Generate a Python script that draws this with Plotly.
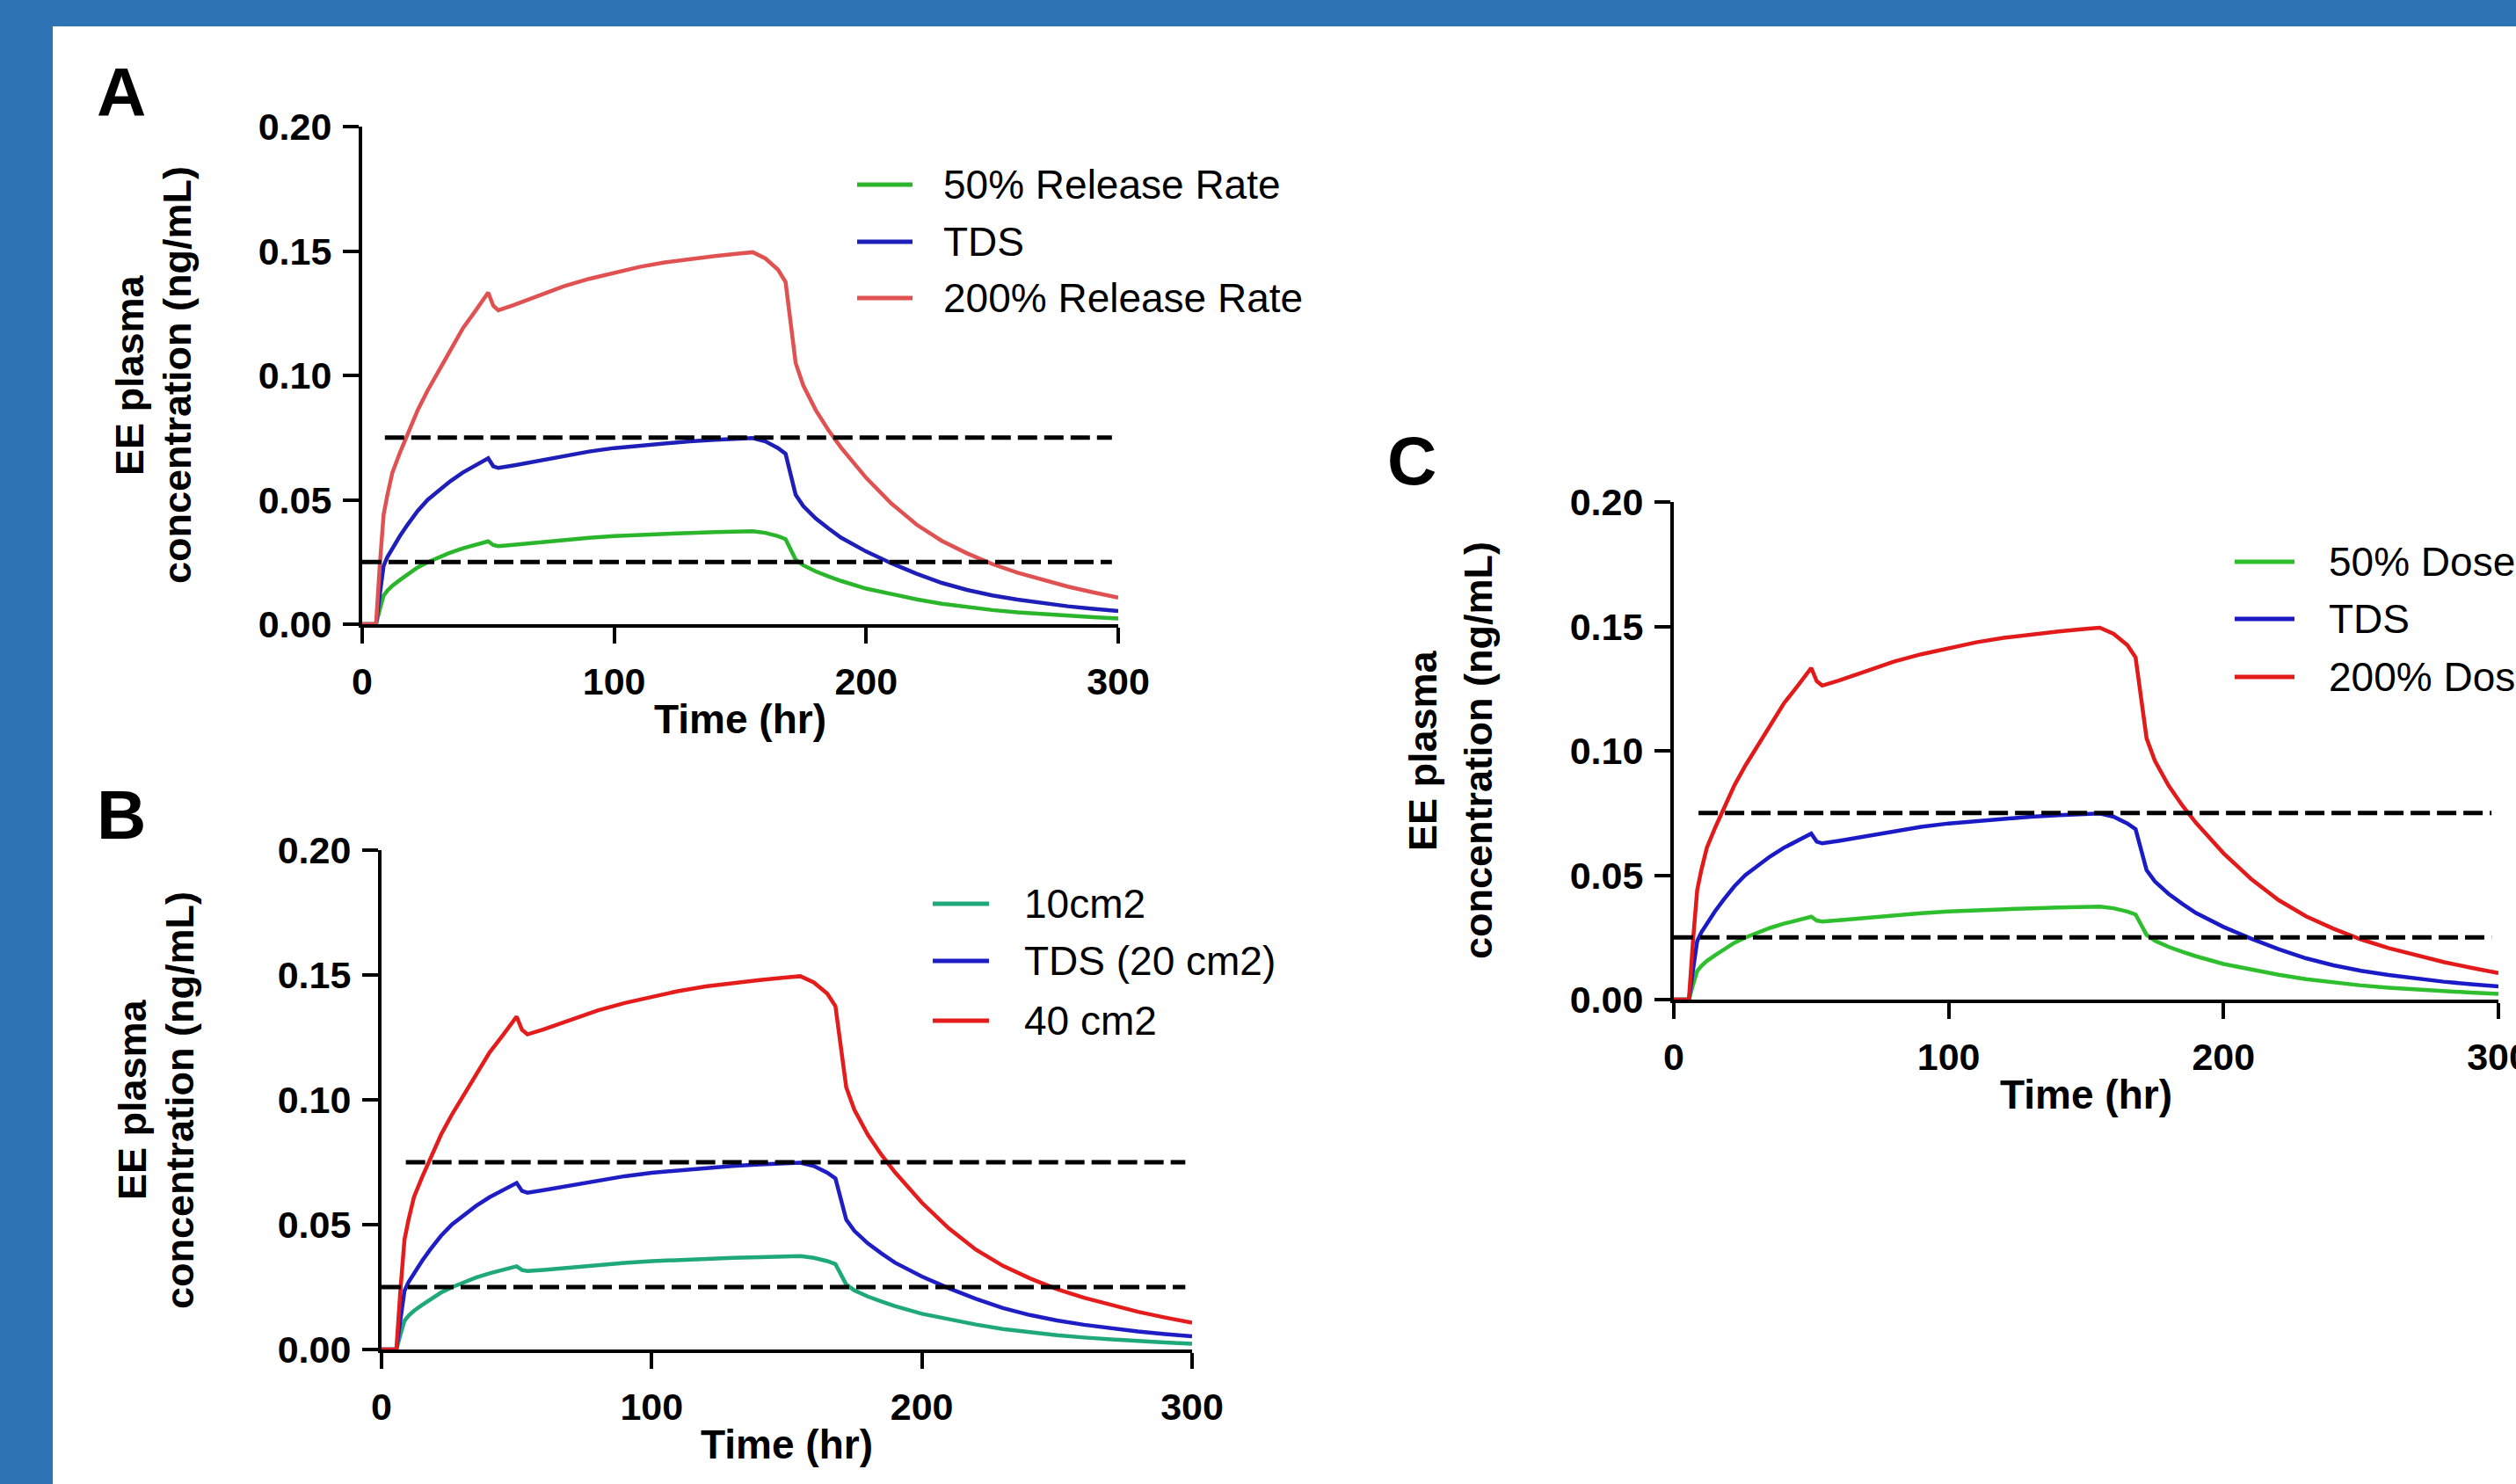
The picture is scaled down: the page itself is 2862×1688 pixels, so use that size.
import plotly.graph_objects as go

W, H = 2862, 1688

# ---------------- data ----------------
time_hr = [0, 5.5, 7, 8.5, 10, 12, 15, 18, 22, 26, 30, 35, 40, 45, 50, 52, 54, 60, 70, 80,
           90, 100, 110, 120, 130, 140, 150, 155, 160, 165, 168, 170, 172, 175, 180, 185,
           190, 200, 210, 220, 230, 240, 250, 260, 270, 280, 290, 300]

conc_low = [0, 0, 0.006, 0.0115, 0.0135, 0.0155, 0.0178, 0.020, 0.0228, 0.0249, 0.0268,
            0.0288, 0.0305, 0.032, 0.0333, 0.0318, 0.0314, 0.0319, 0.0329, 0.0338, 0.0347,
            0.0354, 0.0359, 0.0363, 0.0367, 0.037, 0.0373, 0.0374, 0.0367, 0.0354, 0.0342,
            0.030, 0.026, 0.0237, 0.0212, 0.0192, 0.0174, 0.0143, 0.0120, 0.0100, 0.0082,
            0.0068, 0.0057, 0.0048, 0.0040, 0.0034, 0.0028, 0.0023]

conc_tds = [0, 0, 0.012, 0.0235, 0.027, 0.0305, 0.0355, 0.040, 0.0455, 0.050, 0.0535,
            0.0575, 0.061, 0.064, 0.0667, 0.0635, 0.0628, 0.0638, 0.0658, 0.0677, 0.0694,
            0.0708, 0.0718, 0.0727, 0.0735, 0.0741, 0.0746, 0.0748, 0.0735, 0.0708, 0.0685,
            0.060, 0.052, 0.0475, 0.0425, 0.0385, 0.0348, 0.0292, 0.0245, 0.0203, 0.0166,
            0.0138, 0.0116, 0.0099, 0.0084, 0.0072, 0.0062, 0.0053]

conc_high = [0, 0, 0.024, 0.044, 0.052, 0.061, 0.069, 0.076, 0.086, 0.094, 0.101, 0.110,
             0.119, 0.126, 0.1333, 0.128, 0.1262, 0.1282, 0.1322, 0.1358, 0.1388, 0.1414,
             0.1436, 0.1454, 0.1468, 0.148, 0.149, 0.1495, 0.147, 0.1425, 0.1375, 0.122,
             0.105, 0.096, 0.086, 0.078, 0.071, 0.0588, 0.0485, 0.040, 0.0335, 0.0285,
             0.0242, 0.0207, 0.0177, 0.0151, 0.0128, 0.0107]

threshold_levels = [0.025, 0.075]
threshold_start = [0, 9]
threshold_end = 297.5

x_ticks = [0, 100, 200, 300]
y_ticks = [0.00, 0.05, 0.10, 0.15, 0.20]
y_tick_text = ["0.00", "0.05", "0.10", "0.15", "0.20"]

panel_letters = ["A", "B", "C"]
legend_labels = [
    ["50% Release Rate", "TDS", "200% Release Rate"],
    ["10cm2", "TDS (20 cm2)", "40 cm2"],
    ["50% Dose", "TDS", "200% Dose"],
]
x_title = "Time (hr)"
y_title_lines = ["EE plasma", "concentration (ng/mL)"]

# ---------------- styling / layout (pixels) ----------------
series_colors = [
    ["#2BB52B", "#1E1EB8", "#E05252"],
    ["#1FA87A", "#1E1EC4", "#E41C1C"],
    ["#2EBE2E", "#1A1AC6", "#E21A1A"],
]
# plot boxes: left, right, bottom(y=0), top(y=0.2)
boxes = [
    dict(l=412, r=1272, b=710, t=144),
    dict(l=434, r=1356, b=1535, t=967),
    dict(l=1904, r=2842, b=1137, t=571),
]
letter_pos = [(138, 105), (138, 927), (1606, 524)]
ytitle_x = [(147, 201), (150, 204), (1618, 1681)]
legend_geo = [
    dict(x0=975, x1=1038, rows=[210, 275, 339], tx=1071),
    dict(x0=1061, x1=1125, rows=[1028, 1093, 1161], tx=1163),
    dict(x0=2542, x1=2610, rows=[639, 704, 770], tx=2647),
]

FONT = "Liberation Sans, Arial, Helvetica, sans-serif"

def fx(p):
    return p / W

def fy(p):
    return 1 - p / H

fig = go.Figure()
layout = dict(
    width=W, height=H,
    margin=dict(l=0, r=0, t=0, b=0),
    paper_bgcolor="white", plot_bgcolor="white",
    showlegend=False,
)

annotations = []
shapes = [
    dict(type="rect", xref="paper", yref="paper", x0=0, x1=1, y0=fy(30), y1=1,
         fillcolor="#2E74B5", line=dict(width=0), layer="below"),
    dict(type="rect", xref="paper", yref="paper", x0=0, x1=fx(60), y0=0, y1=1,
         fillcolor="#2E74B5", line=dict(width=0), layer="below"),
]

series = [conc_low, conc_tds, conc_high]

for i, box in enumerate(boxes):
    n = "" if i == 0 else str(i + 1)
    xa, ya = "x" + n, "y" + n
    for s, vals in enumerate(series):
        fig.add_trace(go.Scatter(
            x=time_hr, y=vals, mode="lines", xaxis=xa, yaxis=ya,
            line=dict(color=series_colors[i][s], width=4.5),
            name=legend_labels[i][s], hoverinfo="x+y+name"))
    for lvl, st in zip(threshold_levels, threshold_start):
        fig.add_trace(go.Scatter(
            x=[st, threshold_end], y=[lvl, lvl], mode="lines", xaxis=xa, yaxis=ya,
            line=dict(color="black", width=5, dash="22px,8px"), hoverinfo="skip"))

    common = dict(showgrid=False, zeroline=False, showline=True, linecolor="black",
                  linewidth=4, ticks="outside", ticklen=18, tickwidth=4, tickcolor="black",
                  tickfont=dict(family=FONT, size=43, color="black", weight="bold"),
                  automargin=False, fixedrange=True, ticklabeloverflow="allow")
    layout["xaxis" + n] = dict(common, domain=[fx(box["l"]), fx(box["r"])], range=[0, 300],
                               tickmode="array", tickvals=x_ticks, anchor=ya,
                               ticklabelstandoff=6)
    layout["yaxis" + n] = dict(common, domain=[fy(box["b"]), fy(box["t"])], range=[0, 0.2],
                               tickmode="array", tickvals=y_ticks, ticktext=y_tick_text,
                               anchor=xa, ticklabelstandoff=4)

    # panel letter
    lx, ly = letter_pos[i]
    annotations.append(dict(xref="paper", yref="paper", x=fx(lx), y=fy(ly), text=panel_letters[i],
                            showarrow=False, xanchor="center", yanchor="middle",
                            font=dict(family=FONT, size=78, color="black", weight="bold")))
    # x title
    annotations.append(dict(xref="paper", yref="paper", x=fx((box["l"] + box["r"]) / 2),
                            y=fy(box["b"] + 108), text=x_title, showarrow=False,
                            xanchor="center", yanchor="middle",
                            font=dict(family=FONT, size=46, color="black", weight="bold")))
    # y title (two lines)
    yc = (box["b"] + box["t"]) / 2
    for k, line_txt in enumerate(y_title_lines):
        annotations.append(dict(xref="paper", yref="paper", x=fx(ytitle_x[i][k]), y=fy(yc),
                                text=line_txt, textangle=-90, showarrow=False,
                                xanchor="center", yanchor="middle",
                                font=dict(family=FONT, size=45, color="black", weight="bold")))
    # legend
    lg = legend_geo[i]
    for s in range(3):
        ry = lg["rows"][s]
        shapes.append(dict(type="line", xref="paper", yref="paper", x0=fx(lg["x0"]), x1=fx(lg["x1"]),
                           y0=fy(ry), y1=fy(ry), line=dict(color=series_colors[i][s], width=5)))
        annotations.append(dict(xref="paper", yref="paper", x=fx(lg["tx"]), y=fy(ry),
                                text=legend_labels[i][s], showarrow=False,
                                xanchor="left", yanchor="middle",
                                font=dict(family=FONT, size=46, color="black")))

layout["annotations"] = annotations
layout["shapes"] = shapes
fig.update_layout(**layout)
fig.write_html("out.html",
               config={"displayModeBar": False, "staticPlot": False},
               post_script="document.body.style.margin='0px';document.body.style.overflow='hidden';")
